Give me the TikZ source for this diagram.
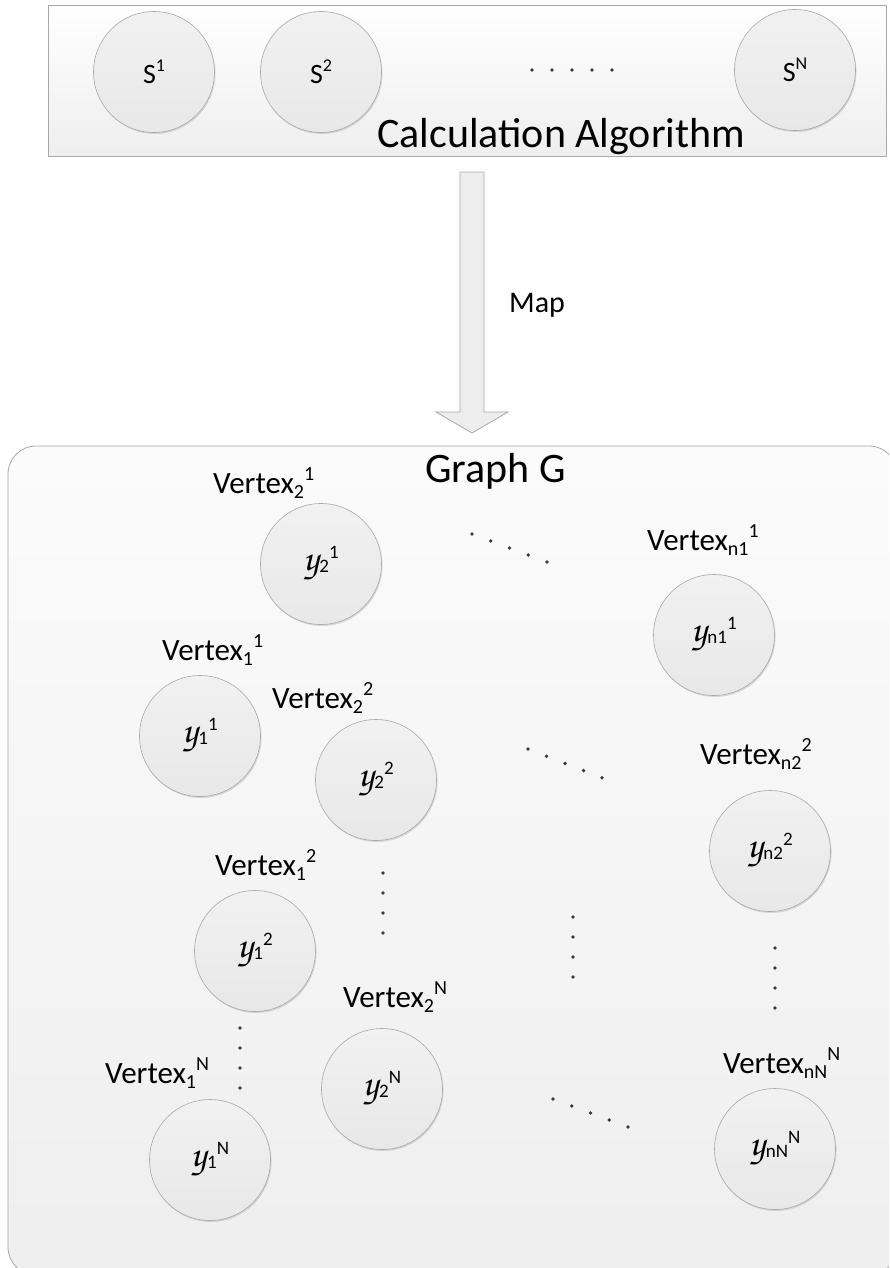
\documentclass[tikz,border=0pt]{standalone}
\usepackage[T1]{fontenc}
\usepackage{fontspec}
\setmainfont{Carlito}
\usetikzlibrary{shadows}
\definecolor{lineg}{HTML}{A8A8A8}
\definecolor{dotc}{HTML}{3A3A3A}
\newcommand\fs[1]{\fontsize{#1}{#1}\selectfont}
\newcommand\scy{{\fontencoding{T1}\fontfamily{pzc}\fontseries{mb}\fontshape{it}\fontsize{38}{38}\selectfont y}}
\newcommand\vlab[2]{\fs{31}Vertex\raisebox{-5pt}{\fs{20}#1}\raisebox{13pt}{\fs{20}#2}}
\newcommand\ylab[2]{\scy\kern1pt\raisebox{-2pt}{\fs{19}#1}\raisebox{12pt}{\fs{19}#2}}
\newcommand\slab[1]{{\fs{28}S}\raisebox{12pt}{\fs{18}#1}}
\tikzset{
  panel/.style={draw=lineg, line width=0.8pt, top color=white, bottom color=gray!13, inner sep=0pt},
  bigpanel/.style={draw=lineg, line width=0.8pt, top color=gray!3, bottom color=gray!13, rounded corners=28pt, inner sep=0pt},
  ball/.style={circle, draw=lineg, line width=0.6pt, top color=gray!11, bottom color=gray!18,
    minimum size=121pt, inner sep=0pt,
    drop shadow={shadow xshift=1pt, shadow yshift=-1.5pt, opacity=.25, fill=gray}},
  lab/.style={anchor=base west, inner sep=0pt},
  dotty/.style={fill=dotc},
  blockarrow/.style={draw=lineg, line width=0.8pt, fill=gray!14}
}
\begin{document}
\begin{tikzpicture}[x=1pt, y=-1pt]
\useasboundingbox (0,0) rectangle (889,1268);
\clip (0,0) rectangle (889,1268);
% top panel
\node[panel, minimum width=838pt, minimum height=151pt] (alg) at (467,80.5) {};
\node[ball] (s1) at (154,72) {\slab{1}};
\node[ball] (s2) at (321,72) {\slab{2}};
\node[ball] (sN) at (795,70) {\slab{N}};
\foreach \x in {532,552,572,592,612} \fill[dotty] (\x,70) circle (1.9pt);
\node[lab] (algtxt) at (377,148) {\fs{42}Calculation Algorithm};
% map arrow
\draw[blockarrow] (460,172) -- (484,172) -- (484,412) -- (508,412) -- (472,433) -- (436,412) -- (460,412) -- cycle;
\node[lab] (maptxt) at (509,312) {\fs{30}Map};
% graph panel
\node[bigpanel, minimum width=889pt, minimum height=829pt] (graph) at (452.5,860.5) {};
\node[lab] (graphtxt) at (425,482) {\fs{42}Graph G};
% vertices
\node[ball] (c21) at (321,564) {\ylab{2}{1}};
\node[ball] (c11) at (200,736) {\ylab{1}{1}};
\node[ball] (c22) at (376,780) {\ylab{2}{2}};
\node[ball] (cn11) at (714,635) {\ylab{n1}{1}};
\node[ball] (cn22) at (770,851) {\ylab{n2}{2}};
\node[ball] (c12) at (255,951) {\ylab{1}{2}};
\node[ball] (c2N) at (382,1089) {\ylab{2}{N}};
\node[ball] (c1N) at (210,1160) {\ylab{1}{N}};
\node[ball] (cnNN) at (775,1149) {\ylab{nN}{N}};
% labels
\node[lab] (v21) at (213,493) {\vlab{2}{1}};
\node[lab] (v11) at (162,660) {\vlab{1}{1}};
\node[lab] (v22) at (272,708) {\vlab{2}{2}};
\node[lab] (vn11) at (647,550) {\vlab{n1}{1}};
\node[lab] (vn22) at (700,764) {\vlab{n2}{2}};
\node[lab] (v12) at (215,875) {\vlab{1}{2}};
\node[lab] (v2N) at (343,1007) {\vlab{2}{N}};
\node[lab] (v1N) at (105,1083) {\vlab{1}{N}};
\node[lab] (vnNN) at (723,1073) {\vlab{nN}{N}};
% dots
\foreach \i in {0,...,4} {
  \fill[dotty] (472+18.75*\i,534+7*\i) circle (1.9pt);
  \fill[dotty] (528+18.5*\i,749+7.2*\i) circle (1.9pt);
  \fill[dotty] (553+18.75*\i,1099+7*\i) circle (1.9pt);
}
\foreach \i in {0,...,3} {
  \fill[dotty] (383,873+20*\i) circle (1.9pt);
  \fill[dotty] (240,1028+20*\i) circle (1.9pt);
  \fill[dotty] (573,917+20*\i) circle (1.9pt);
  \fill[dotty] (775,948+20*\i) circle (1.9pt);
}
\end{tikzpicture}
\end{document}
